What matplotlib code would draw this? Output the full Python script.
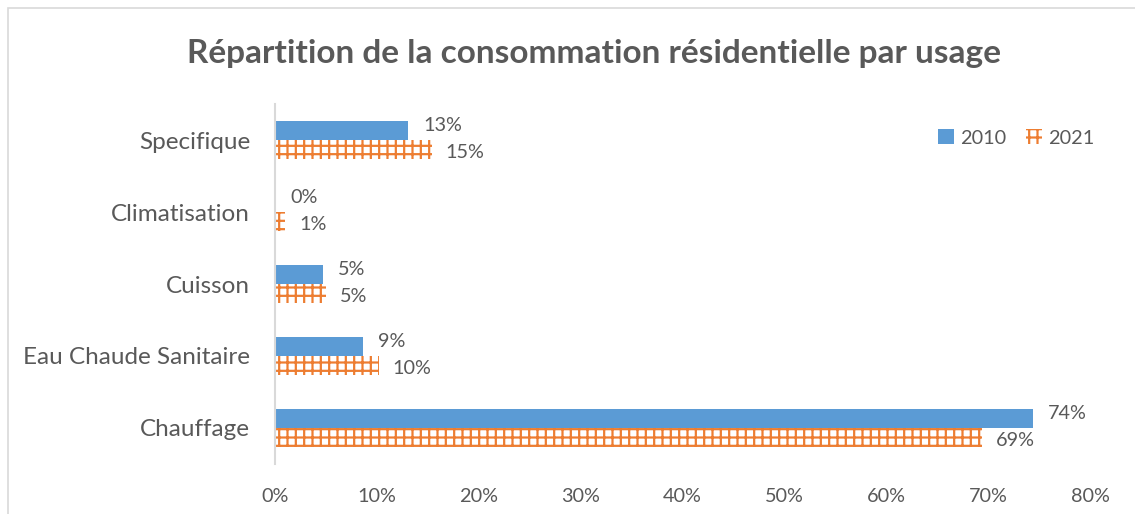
import matplotlib
matplotlib.use("Agg")
import matplotlib.pyplot as plt
from matplotlib.patches import Rectangle

categories = ["Chauffage", "Eau Chaude Sanitaire", "Cuisson", "Climatisation", "Specifique"]
share_2010 = [74.4, 8.6, 4.7, 0.0, 13.1]
share_2021 = [69.4, 10.2, 5.0, 1.0, 15.4]
xticks = [0, 10, 20, 30, 40, 50, 60, 70, 80]

BLUE = "#5B9BD5"
ORANGE = "#ED7D31"
TEXT = "#595959"

plt.rcParams.update({"font.family": ["Lato", "DejaVu Sans"], "hatch.linewidth": 1.6})

fig = plt.figure(figsize=(11.35, 5.14), dpi=100)
fig.patches.append(Rectangle((8 / 1135, -0.1), 1.2, 1 - 8 / 514 + 0.1, transform=fig.transFigure,
                             fill=False, edgecolor="#D9D9D9", linewidth=1.2))
ax = fig.add_axes([275 / 1135, 1 - 464 / 514, 815 / 1135, 360 / 514])

y = list(range(len(categories)))
h = 0.262
ax.barh([v + h / 2 for v in y], share_2010, height=h, color=BLUE, label="2010")
ax.barh([v - h / 2 for v in y], share_2021, height=h, color="white", edgecolor=ORANGE,
        hatch="++", linewidth=0, label="2021")

for yi, v in zip(y, share_2010):
    ax.annotate(f"{v:.0f}%", (v, yi + h / 2), xytext=(11, 4), textcoords="offset points",
                va="center", ha="left", fontsize=14.3, color=TEXT)
for yi, v in zip(y, share_2021):
    ax.annotate(f"{v:.0f}%", (v, yi - h / 2), xytext=(10, -2), textcoords="offset points",
                va="center", ha="left", fontsize=14.3, color=TEXT)

ax.set_xlim(0, 80)
ax.set_ylim(-0.5, len(categories) - 0.5)
ax.set_xticks(xticks)
ax.set_xticklabels([f"{t}%" for t in xticks])
ax.set_yticks(y)
ax.set_yticklabels(categories)
ax.tick_params(axis="both", length=0, labelsize=14.3, colors=TEXT)
ax.tick_params(axis="x", pad=17)
ax.tick_params(axis="y", pad=18, labelsize=17.5)
for s in ("top", "right", "bottom"):
    ax.spines[s].set_visible(False)
ax.spines["left"].set_color("#D9D9D9")
ax.spines["left"].set_linewidth(1.5)

ax.legend(loc="upper right", bbox_to_anchor=(1.027, 0.98), ncol=2, frameon=False, fontsize=14.3,
          handlelength=0.8, handleheight=0.8, columnspacing=1.0, handletextpad=0.3,
          labelcolor=TEXT)

fig.text(0.523, 1 - 53 / 514, "Répartition de la consommation résidentielle par usage",
         ha="center", va="center", fontsize=24, fontweight="bold", color=TEXT)

fig.savefig("out.png", dpi=100)
